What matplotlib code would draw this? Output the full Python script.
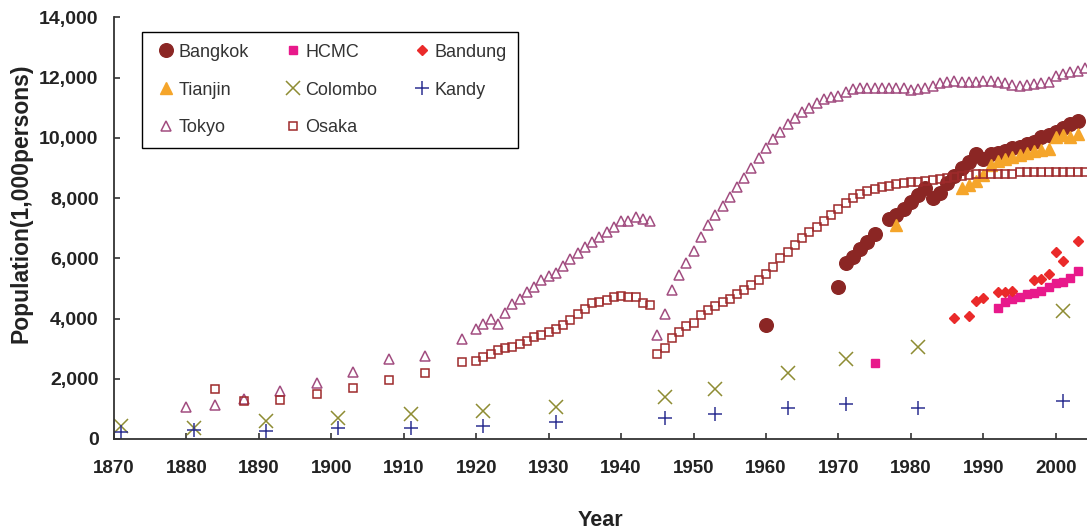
import matplotlib
matplotlib.use("Agg")
import matplotlib.pyplot as plt
from matplotlib.ticker import FuncFormatter

plt.rcParams['font.family'] = ['Liberation Sans', 'DejaVu Sans']

# --- city population series (1,000 persons) ---
bangkok_years = [1960, 1970, 1971, 1972, 1973, 1974, 1975] + list(range(1977, 2004))
bangkok_pop = [3790, 5060, 5840, 6040, 6300, 6530, 6800,
               7300, 7440, 7630, 7880, 8100, 8330, 7990, 8180, 8490, 8735,
               8990, 9180, 9450, 9280, 9460, 9490, 9575, 9655, 9710, 9800,
               9875, 10020, 10100, 10190, 10320, 10460, 10570]

hcmc_years = [1975] + list(range(1992, 2004))
hcmc_pop = [2514, 4341, 4560, 4640, 4726, 4806, 4839, 4926, 5058, 5171,
            5224, 5357, 5590]

bandung_years = [1986, 1988, 1989, 1990, 1992, 1993, 1994, 1997, 1998,
                 1999, 2000, 2001, 2003]
bandung_pop = [4029, 4075, 4570, 4673, 4866, 4872, 4920, 5265, 5314,
               5480, 6221, 5912, 6576]

tianjin_years = [1978] + list(range(1987, 2004))
tianjin_pop = [7107, 8330, 8430, 8575, 8768, 9085, 9233, 9289, 9376, 9432,
               9488, 9565, 9598, 9631, 10020, 10086, 10040, 10130]

census_years = [1871, 1881, 1891, 1901, 1911, 1921, 1931, 1946, 1953,
                1963, 1971, 1981, 2001]
colombo_pop = [432, 376, 588, 687, 830, 930, 1073, 1405, 1661,
               2181, 2657, 3066, 4251]
kandy_pop = [243, 299, 266, 376, 376, 420, 575, 687, 820,
             1019, 1162, 1019, 1272]

tokyo_years = [1880, 1884, 1888, 1893, 1898, 1903, 1908, 1913, 1918] + list(range(1920, 2005))
tokyo_pop = [1073, 1119, 1318, 1584, 1870, 2225, 2667, 2757, 3311,
             3660, 3819, 3985, 3819, 4174, 4473, 4660, 4872, 5058, 5281,
             5424, 5523, 5756, 5968, 6168, 6367, 6553, 6719, 6865, 7051,
             7250, 7250, 7363, 7307, 7250, 3454, 4152, 4948, 5447, 5856,
             6254, 6698, 7107, 7450, 7750, 8027, 8359, 8658, 9011, 9343,
             9655, 9963, 10206, 10452, 10651, 10850, 11003, 11169, 11292, 11348,
             11402, 11515, 11614, 11647, 11660, 11667, 11667, 11667, 11667, 11660,
             11591, 11634, 11667, 11734, 11813, 11846, 11890, 11846, 11846, 11846,
             11890, 11890, 11846, 11813, 11757, 11734, 11757, 11780, 11813, 11846,
             12056, 12122, 12179, 12232, 12330]

osaka_years = [1884, 1888, 1893, 1898, 1903, 1908, 1913, 1918] + list(range(1920, 2005))
osaka_pop = [1650, 1252, 1295, 1495, 1694, 1949, 2202, 2557,
             2601, 2713, 2823, 2956, 3012, 3066, 3155, 3265, 3378, 3454,
             3544, 3653, 3786, 3952, 4141, 4307, 4507, 4560, 4616, 4706,
             4749, 4706, 4706, 4507, 4450, 2813, 3012, 3364, 3544, 3753,
             3863, 4100, 4270, 4417, 4560, 4660, 4806, 4948, 5120, 5290,
             5490, 5720, 6000, 6221, 6443, 6686, 6865, 7051, 7250, 7450,
             7650, 7840, 7990, 8120, 8230, 8300, 8360, 8413, 8459, 8492,
             8525, 8546, 8579, 8602, 8635, 8678, 8711, 8745, 8768, 8791,
             8800, 8800, 8800, 8800, 8800, 8850, 8850, 8850, 8850, 8850,
             8850, 8850, 8850, 8850, 8850]

fig = plt.figure(figsize=(10.87, 5.31), dpi=100)
ax = fig.add_axes([0.1047, 0.1733, 0.8953, 0.7941])

h = {}
h['Bangkok'], = ax.plot(bangkok_years, bangkok_pop, 'o', ms=9.8, color='#8b2624', mec='#8b2624')
h['HCMC'], = ax.plot(hcmc_years, hcmc_pop, 's', ms=6.3, color='#e8198b', mec='#e8198b')
h['Bandung'], = ax.plot(bandung_years, bandung_pop, 'D', ms=5.5, color='#ea2a2a', mec='#ea2a2a')
h['Tianjin'], = ax.plot(tianjin_years, tianjin_pop, '^', ms=8, color='#f5a52a', mec='#f5a52a')
h['Colombo'], = ax.plot(census_years, colombo_pop, 'x', ms=10, mew=1.1, color='#8e8c33')
h['Kandy'], = ax.plot(census_years, kandy_pop, '+', ms=10, mew=1.1, color='#2e3192')
h['Tokyo'], = ax.plot(tokyo_years, tokyo_pop, '^', ms=7.3, mew=1.1, mfc='none', mec='#a24d80')
h['Osaka'], = ax.plot(osaka_years, osaka_pop, 's', ms=5.8, mew=1.1, mfc='none', mec='#9e2a2b')

ax.set_xlim(1870, 2004.3)
ax.set_ylim(0, 14000)
ax.set_xticks(range(1870, 2001, 10))
ax.set_yticks(range(0, 14001, 2000))
ax.yaxis.set_major_formatter(FuncFormatter(lambda v, p: f"{int(v):,}"))

for s in ('top', 'right'):
    ax.spines[s].set_visible(False)
for s in ('left', 'bottom'):
    ax.spines[s].set_color('#333333')
    ax.spines[s].set_linewidth(1.3)

ax.tick_params(axis='x', direction='in', length=4.5, width=1.2, color='#333333',
               pad=15, labelsize=13.5, labelcolor='#222222')
ax.tick_params(axis='y', direction='in', length=4.5, width=1.2, color='#333333',
               pad=11, labelsize=14, labelcolor='#222222')
for lab in ax.get_xticklabels() + ax.get_yticklabels():
    lab.set_fontweight('bold')

ax.set_xlabel('Year', fontsize=15.5, fontweight='bold', color='#222222', labelpad=24)
ax.set_ylabel('Population(1,000persons)', fontsize=16.5, fontweight='bold',
              color='#222222')
ax.yaxis.set_label_coords(-0.084, 0.56)

# legend filled column by column: 3 rows x 3 columns
order = ['Bangkok', 'Tianjin', 'Tokyo', 'HCMC', 'Colombo', 'Osaka', 'Bandung', 'Kandy']
leg = ax.legend([h[k] for k in order], order, ncol=3, loc='upper left',
                bbox_to_anchor=(0.029, 0.965), borderaxespad=0, fontsize=13,
                frameon=True, fancybox=False, framealpha=1, edgecolor='black',
                handlelength=1.35, handletextpad=0.0, columnspacing=1.8,
                labelspacing=1.15, borderpad=0.65, numpoints=1)
leg.get_frame().set_linewidth(1.0)
for t in leg.get_texts():
    t.set_color('#333333')

fig.savefig('out.png', dpi=100)
